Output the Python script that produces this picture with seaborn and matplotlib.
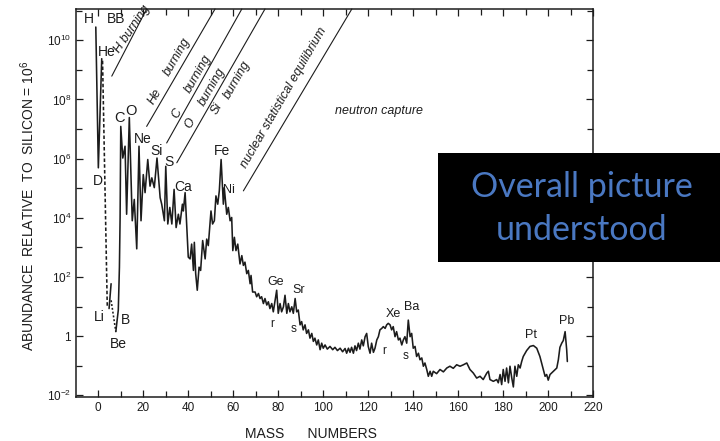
import matplotlib
matplotlib.use("Agg")
import matplotlib.pyplot as plt
import matplotlib.ticker as mticker
from matplotlib.patches import Rectangle
import numpy as np
import pandas as pd
import seaborn as sns

# ---------------- data (mass number, log10 abundance, Si = 1e6) ----------------
# H - D - He (solid)
light_A = [-1.0, 0.13, 1.64]
light_L = [10.45, 5.69, 9.38]
# He -> Li (dashed)
heli_A = [2.0, 4.1]
heli_L = [9.31, 0.99]
# Li (short solid)
li_A = [4.9, 5.8]
li_L = [0.93, 1.77]
# Li -> Be (dotted)
libe_A = [5.8, 7.9]
libe_L = [1.21, 0.15]
# Be -> B -> ... -> Pb (solid main curve)
main_A = [7.9, 9.0, 9.5, 9.8, 10.1, 11.0, 12.0, 12.7, 13.9, 15.2, 16.1, 17.2, 18.2, 19.1,
          20.1, 20.9, 22.1, 23.1, 23.9, 25.0, 26.2, 27.6, 28.3, 29.5, 30.1, 31.0, 31.9,
          32.8, 33.8, 34.7, 35.7, 36.4, 37.5, 37.9, 38.7, 39.4, 40.1, 40.9, 41.6, 42.4,
          42.8, 43.4, 44.1, 44.9, 45.6, 46.5, 47.6, 48.3, 49.0, 50.2, 50.9, 51.7, 52.4,
          53.2, 53.9, 54.7, 55.7, 56.1, 57.2, 57.9, 58.7, 59.4, 59.9, 60.6, 61.3, 62.1,
          63.1, 63.9, 64.6, 65.3, 66.1, 66.8, 67.6, 68.0, 68.7, 69.8, 70.5, 71.3, 72.0,
          72.7, 73.5, 74.2, 75.0, 75.7, 76.4, 77.2, 77.9, 78.7, 79.4, 80.1, 80.9, 81.6,
          82.4, 83.1, 83.9, 84.6, 85.3, 86.1, 86.8, 87.6, 88.3, 89.0, 89.8, 90.5, 91.2,
          92.0, 92.7, 93.5, 94.2, 95.0, 95.7, 96.4, 97.2, 97.9, 98.7, 99.4, 100.1, 100.9,
          101.9, 103.1, 104.3, 105.3, 106.4, 107.6, 108.7, 109.8, 110.5, 111.3, 112.0,
          112.7, 113.5, 114.2, 114.9, 115.7, 116.4, 117.2, 117.9, 118.7, 119.4, 120.1,
          120.9, 121.6, 122.4, 123.1, 123.9, 124.6, 125.3, 126.1, 126.8, 127.6, 128.3,
          129.0, 129.8, 130.5, 131.2, 132.0, 132.7, 133.5, 134.2, 135.0, 135.7, 136.4,
          137.2, 137.9, 138.7, 139.4, 140.1, 140.9, 141.6, 142.4, 143.1, 143.9, 144.6,
          145.3, 146.1, 146.8, 147.6, 148.3, 149.0, 150.5, 152.0, 153.5, 155.0, 156.4,
          157.9, 159.4, 160.9, 162.4, 163.9, 165.3, 166.8, 168.3, 169.8, 171.2, 172.8,
          173.5, 174.2, 175.7, 177.2, 177.9, 178.7, 179.4, 180.1, 180.9, 181.6, 182.4,
          183.1, 183.9, 184.6, 185.3, 186.1, 186.8, 187.6, 188.3, 189.0, 190.5, 192.0,
          193.5, 195.0, 196.4, 197.9, 198.7, 199.4, 200.1, 200.9, 202.4, 203.9, 204.6,
          205.3, 206.1, 206.8, 207.6, 208.3, 208.6]
main_L = [0.15, 0.88, 2.33, 4.0, 7.09, 6.02, 6.42, 4.12, 7.39, 3.90, 4.62, 2.95, 6.42, 3.90,
          5.46, 4.85, 5.97, 5.07, 5.35, 5.02, 6.02, 4.68, 4.46, 3.90, 5.74, 3.79, 4.35,
          3.79, 4.96, 3.67, 4.12, 3.79, 4.46, 4.23, 4.85, 3.79, 2.67, 2.61, 3.11, 2.22,
          3.17, 2.11, 1.55, 2.33, 2.22, 3.23, 2.61, 3.28, 3.06, 4.23, 3.79, 3.90, 4.74,
          4.46, 4.91, 5.97, 4.46, 5.02, 4.12, 4.35, 3.90, 4.01, 2.89, 3.34, 2.89, 3.11,
          2.44, 2.72, 2.39, 2.50, 2.11, 2.22, 1.77, 2.05, 1.49, 1.49, 1.33, 1.44, 1.27,
          1.33, 1.10, 1.27, 1.05, 1.16, 0.93, 1.10, 0.82, 1.21, 1.55, 0.77, 1.10, 0.82,
          0.99, 1.38, 0.77, 1.10, 0.82, 0.99, 0.77, 1.27, 0.82, 0.88, 0.38, 0.49, 0.21,
          0.38, 0.09, 0.21, -0.07, 0.09, -0.18, -0.07, -0.30, -0.13, -0.46, -0.24, -0.41, -0.30,
          -0.44, -0.35, -0.46, -0.38, -0.49, -0.41, -0.53, -0.42, -0.58, -0.41, -0.55,
          -0.38, -0.58, -0.33, -0.49, -0.24, -0.44, -0.13, -0.33, -0.02, 0.09, -0.35,
          -0.58, -0.24, -0.55, -0.41, -0.13, -0.02, 0.21, 0.26, 0.32, 0.26, 0.38,
          0.43, 0.38, 0.21, 0.32, -0.02, 0.15, -0.13, -0.07, -0.30, -0.13, -0.02,
          -0.24, 0.54, -0.02, 0.09, -0.41, -0.35, -0.69, -0.58, -0.80, -0.74, -1.02,
          -0.91, -1.13, -1.36, -1.19, -1.36, -1.19, -1.27, -1.13, -1.21, -1.08, -1.02,
          -1.09, -0.97, -1.02, -0.97, -0.91, -1.13, -1.25, -1.42, -1.36, -1.47, -1.25,
          -1.19, -1.47, -1.53, -1.47, -1.58, -1.30, -1.64, -1.13, -1.53, -1.08, -1.58,
          -1.02, -1.42, -1.72, -1.02, -1.36, -0.97, -1.08, -0.86, -0.69, -0.49, -0.35,
          -0.32, -0.41, -0.69, -1.13, -1.36, -1.30, -1.49, -1.30, -1.19, -1.08, -0.80,
          -0.38, -0.24, -0.15, 0.15, -0.46, -0.86]

# element labels: text, mass number, log10 abundance, size
elem_text = ["H", "BB", "He", "D", "C", "O", "Ne", "Si", "S", "Ca", "Fe", "Ni", "Li", "B", "Be",
             "Ge", "Sr", "r", "s", "Xe", "Ba", "r", "s", "Pt", "Pb"]
elem_A = [-3.9, 8.2, 3.9, -0.1, 9.5, 14.5, 19.9, 26.1, 31.7, 37.9, 55.0, 58.2, 0.6, 12.4, 9.0,
          79.1, 89.0, 77.5, 86.8, 131.2, 139.4, 127.1, 136.9, 192.4, 208.3]
elem_L = [10.72, 10.72, 9.60, 5.26, 7.37, 7.61, 6.67, 6.27, 5.89, 5.04, 6.27, 4.93, 0.65, 0.56,
          -0.28, 1.83, 1.55, 0.40, 0.23, 0.74, 0.99, -0.52, -0.69, 0.04, 0.52]
elem_size = [10, 10, 10, 10, 10.5, 10.5, 10, 10, 10, 10, 10, 9, 10, 10, 10,
             9, 9, 8.5, 8.5, 9, 9, 8.5, 8.5, 9, 9]

# burning-region boundary lines (A0, L0, A1, L1)
bound_A0 = [6.1, 21.6, 30.5, 35.0, 64.6]
bound_L0 = [8.79, 7.09, 6.53, 5.86, 4.91]
bound_A1 = [21.6, 52.0, 63.9, 74.2, 112.8]
bound_L1 = [11.06, 11.06, 11.06, 11.06, 11.06]

# process labels (text, A, L, rotation)
proc_text = ["H burning", "He", "burning", "C", "burning", "O", "burning", "Si", "burning",
             "nuclear statistical equilibrium", "neutron capture"]
proc_A = [15.0, 25.3, 35.0, 35.0, 44.6, 40.9, 50.5, 52.8, 61.6, 82.4, 124.9]
proc_L = [10.37, 8.10, 9.45, 7.53, 8.88, 7.20, 8.44, 7.70, 8.65, 8.07, 7.60]
proc_rot = [56, 60, 60, 60, 60, 60, 60, 60, 60, 60, 0]

x_ticks = list(range(0, 221, 20))
y_major_exp = [-2, 0, 2, 4, 6, 8, 10]
y_minor_exp = [-1, 1, 3, 5, 7, 9, 11]

# ---------------- figure ----------------
sns.set_style("ticks")
plt.rcParams["font.family"] = ["Liberation Sans", "DejaVu Sans"]
plt.rcParams["mathtext.fontset"] = "custom"
plt.rcParams["mathtext.rm"] = "Liberation Sans"
plt.rcParams["mathtext.it"] = "Liberation Sans:italic"

fig = plt.figure(figsize=(7.2, 4.41), dpi=100)
ax = fig.add_axes([76 / 720, 1 - 397 / 441, (593 - 76) / 720, (397 - 9) / 441])

ink = "#1c1c1c"

def seg(A, L, style):
    df = pd.DataFrame({"A": A, "Y": np.power(10.0, L)})
    sns.lineplot(data=df, x="A", y="Y", ax=ax, color=ink, linewidth=1.15,
                 linestyle=style, sort=False, estimator=None)

seg(light_A, light_L, "-")
seg(heli_A, heli_L, (0, (2.2, 1.4)))
seg(li_A, li_L, "-")
seg(libe_A, libe_L, (0, (1.2, 1.2)))
seg(main_A, main_L, "-")

for a0, l0, a1, l1 in zip(bound_A0, bound_L0, bound_A1, bound_L1):
    ax.plot([a0, a1], [10 ** l0, 10 ** l1], color=ink, linewidth=0.8, clip_on=False)

for t, a, l, s in zip(elem_text, elem_A, elem_L, elem_size):
    ax.text(a, 10 ** l, t, fontsize=s, ha="center", va="center", color=ink)

for t, a, l, r in zip(proc_text, proc_A, proc_L, proc_rot):
    ax.text(a, 10 ** l, t, fontsize=9, style="italic", ha="center", va="center",
            rotation=r, rotation_mode="anchor", color=ink)

ax.set_yscale("log")
ax.set_xlim(-9.8, 220)
ax.set_ylim(10 ** -2.06, 10 ** 11.06)

ax.xaxis.set_major_locator(mticker.FixedLocator(x_ticks))
ax.xaxis.set_minor_locator(mticker.MultipleLocator(10))
ax.yaxis.set_major_locator(mticker.FixedLocator([10.0 ** e for e in y_major_exp]))
ax.yaxis.set_minor_locator(mticker.FixedLocator([10.0 ** e for e in y_minor_exp]))
ax.yaxis.set_major_formatter(mticker.FuncFormatter(
    lambda v, p: "1" if abs(np.log10(v)) < 1e-6 else r"$10^{%d}$" % round(np.log10(v))))
ax.yaxis.set_minor_formatter(mticker.NullFormatter())

ax.tick_params(which="both", direction="in", top=True, right=True, colors=ink,
               labelsize=8.5, width=0.9)
ax.tick_params(which="major", length=5)
ax.tick_params(which="minor", length=4)
for sp in ax.spines.values():
    sp.set_linewidth(1.1)
    sp.set_color(ink)

ax.set_xlabel("MASS      NUMBERS", fontsize=10, color=ink)
ax.xaxis.set_label_coords((311 - 76) / 517, (397 - 427) / 388)
ax.set_ylabel(r"ABUNDANCE  RELATIVE  TO  SILICON = 10$^6$", fontsize=10, color=ink)
ax.yaxis.set_label_coords((37 - 76) / 517, (397 - 206) / 388)

# overlay box
fig.add_artist(Rectangle((438 / 720, 1 - 262 / 441), (720 - 438) / 720, (262 - 153) / 441,
                         transform=fig.transFigure, facecolor="black", edgecolor="none",
                         zorder=10))
fig.text(582 / 720, 1 - 187 / 441, "Overall picture", fontsize=24.5, color="#4a78c2",
         ha="center", va="center", family=["Lato", "DejaVu Sans"], zorder=11)
fig.text(582 / 720, 1 - 230 / 441, "understood", fontsize=24.5, color="#4a78c2",
         ha="center", va="center", family=["Lato", "DejaVu Sans"], zorder=11)

fig.savefig("out.png", dpi=100, facecolor="white")
